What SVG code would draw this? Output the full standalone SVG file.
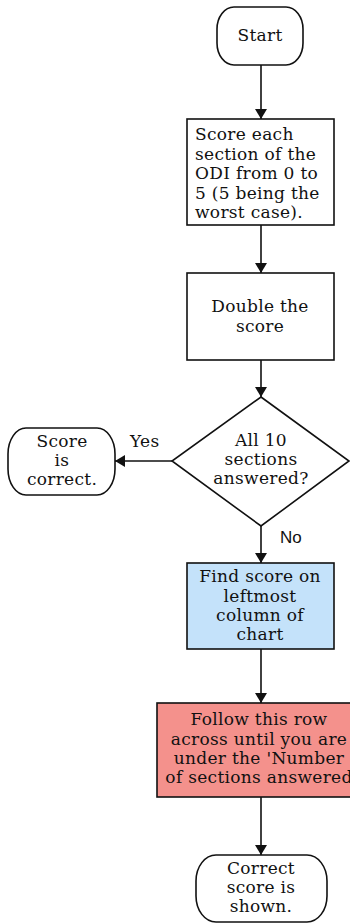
<svg xmlns="http://www.w3.org/2000/svg" width="350" height="924" viewBox="0 0 350 924">
<style>
.s{stroke:#111;stroke-width:1.6;fill:#fff}
.t{font-family:"DejaVu Serif","Liberation Serif",serif;font-size:17px;fill:#111;letter-spacing:0.3px}
.c{text-anchor:middle}
.ln{stroke:#111;stroke-width:1.6;fill:none}
.sans{font-family:"Liberation Sans",Arial,sans-serif;font-size:17px;fill:#111}
</style>
<defs>
<marker id="ah" viewBox="0 0 10 12" refX="10" refY="6" markerWidth="10" markerHeight="12" markerUnits="userSpaceOnUse" orient="auto">
<path d="M0,0 L10,6 L0,12 Z" fill="#111"/>
</marker>
</defs>
<rect width="350" height="924" fill="#fff"/>
<g id="connectors">
<line class="ln" x1="261" y1="65" x2="261" y2="119" marker-end="url(#ah)"/>
<line class="ln" x1="261" y1="225" x2="261" y2="273" marker-end="url(#ah)"/>
<line class="ln" x1="261" y1="360" x2="261" y2="397" marker-end="url(#ah)"/>
<line class="ln" x1="172" y1="461" x2="115" y2="461" marker-end="url(#ah)"/>
<line class="ln" x1="261" y1="526" x2="261" y2="563" marker-end="url(#ah)"/>
<line class="ln" x1="261" y1="649" x2="261" y2="703" marker-end="url(#ah)"/>
<line class="ln" x1="261" y1="797" x2="261" y2="855" marker-end="url(#ah)"/>
<text class="t" x="130" y="447">Yes</text>
<text class="sans" x="280" y="543">No</text>
</g>
<g id="start">
<rect class="s" x="217" y="7" width="86" height="58" rx="17" ry="22"/>
<text class="t c" x="260" y="41">Start</text>
</g>
<g id="score-each">
<rect class="s" x="187" y="119" width="147" height="106"/>
<text class="t" x="195" y="140">Score each</text>
<text class="t" x="195" y="159.5">section of the</text>
<text class="t" x="195" y="179">ODI from 0 to</text>
<text class="t" x="195" y="198.5">5 (5 being the</text>
<text class="t" x="195" y="218">worst case).</text>
</g>
<g id="double">
<rect class="s" x="187" y="273" width="147" height="87"/>
<text class="t c" x="260" y="312">Double the</text>
<text class="t c" x="260" y="332">score</text>
</g>
<g id="decision">
<polygon class="s" points="261,397 349,461 261,526 172,461"/>
<text class="t c" x="261" y="446">All 10</text>
<text class="t c" x="261" y="465">sections</text>
<text class="t c" x="261" y="484">answered?</text>
</g>
<g id="score-correct">
<rect class="s" x="8" y="428" width="107" height="67" rx="18" ry="26"/>
<text class="t c" x="62" y="447">Score</text>
<text class="t c" x="62" y="466">is</text>
<text class="t c" x="62" y="485">correct.</text>
</g>
<g id="find-score">
<rect class="s" x="187" y="563" width="147" height="86" fill="#c4e2fa" style="fill:#c4e2fa"/>
<text class="t c" x="260" y="582">Find score on</text>
<text class="t c" x="260" y="601.5">leftmost</text>
<text class="t c" x="260" y="621">column of</text>
<text class="t c" x="260" y="640">chart</text>
</g>
<g id="follow-row">
<rect class="s" x="157" y="703" width="206" height="94" style="fill:#f4918c"/>
<text class="t c" x="259" y="725">Follow this row</text>
<text class="t c" x="259" y="745">across until you are</text>
<text class="t c" x="259" y="764">under the 'Number</text>
<text class="t c" x="259" y="783">of sections answered</text>
</g>
<g id="end">
<rect class="s" x="196" y="855" width="131" height="67" rx="20" ry="26"/>
<text class="t c" x="261" y="874">Correct</text>
<text class="t c" x="261" y="893">score is</text>
<text class="t c" x="261" y="912">shown.</text>
</g>
</svg>
